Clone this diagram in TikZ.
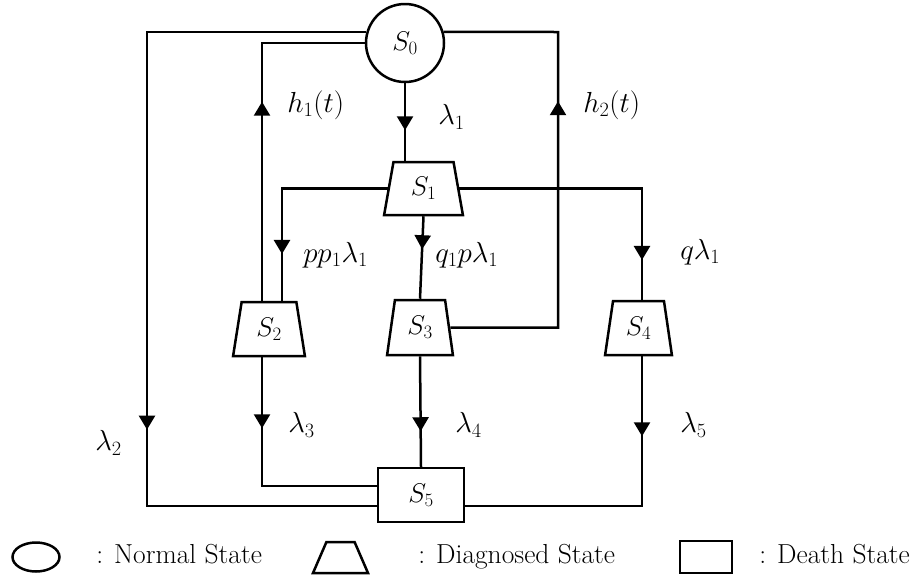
\RequirePackage{fix-cm}
\documentclass[tikz,border=0pt]{standalone}
\usepackage{tikz}
\usetikzlibrary{arrows.meta, shapes.geometric, decorations.markings}

\begin{document}
\begin{tikzpicture}[x=1pt,y=-1pt,line width=2.5pt,
    normal/.style={draw,circle,minimum size=78pt,inner sep=0pt},
    diag/.style={draw,trapezium,trapezium stretches=true,trapezium angle=80,inner sep=0pt},
    death/.style={draw,rectangle,inner sep=0pt},
    lbl/.style={anchor=west,inner sep=0pt,font=\fontsize{29}{34}\selectfont},
    legtext/.style={anchor=base west,inner sep=0pt,font=\fontsize{27.5}{33}\selectfont},
    flow/.style={postaction={decorate},decoration={markings,mark=at position #1 with {\arrow{Triangle[width=16pt,length=14pt]}}}}]
    \useasboundingbox (0,0) rectangle (915,579);
    % states
    \node[normal,font=\fontsize{27}{32}\selectfont] (s0) at (405,43) {$S_0$};
    \node[diag,font=\fontsize{27}{32}\selectfont,minimum width=79pt,minimum height=53pt] (s1) at (423.5,188.5) {$S_1$};
    \node[diag,font=\fontsize{27}{32}\selectfont,minimum width=72pt,minimum height=54pt] (s2) at (269,329) {$S_2$};
    \node[diag,font=\fontsize{27}{32}\selectfont,minimum width=66pt,minimum height=55pt] (s3) at (420,327.5) {$S_3$};
    \node[diag,font=\fontsize{27}{32}\selectfont,minimum width=67pt,minimum height=54pt] (s4) at (638.5,328) {$S_4$};
    \node[death,font=\fontsize{27}{32}\selectfont,minimum width=86pt,minimum height=54pt] (s5) at (421,495) {$S_5$};
    \coordinate (c2) at (147,506); % outer left corner
    \coordinate (h2c) at (558,32); % right corner
    % transitions
    \draw[flow=199pt] ([xshift=-7pt]s2.north) |- (s0); % h1
    \draw[flow=47pt] (s0.south) -- (s0.south |- s1.north); % lambda1
    \draw[flow=617pt] (s0.164) -| (c2) -- ([yshift=-11pt]s5.west); % lambda2
    \draw[flow=334pt] (s3.east) -| (h2c) -- (s0.16); % h2
    \draw[flow=171pt] (s1.west) -| ([xshift=13pt]s2.north);
    \draw[flow=33pt] (s1.south) -- (s3.north);
    \draw[flow=254pt] (s1.east) -| ([xshift=3.5pt]s4.north);
    \draw[flow=71pt] ([xshift=-7pt]s2.south) |- ([yshift=9pt]s5.west); % lambda3
    \draw[flow=75pt] (s3.south) -- (s5.north); % lambda4
    \draw[flow=80pt] ([xshift=3.5pt]s4.south) |- ([yshift=-11pt]s5.east); % lambda5
    % rates
    \node[lbl] (lh1) at (286,105) {$h_1(t)$};
    \node[lbl] (ll1) at (437,117) {$\lambda_1$};
    \node[lbl] (lh2) at (582,105) {$h_2(t)$};
    \node[lbl] (lpp) at (302,255) {$pp_1\lambda_1$};
    \node[lbl] (lqp) at (434,255) {$q_1p\lambda_1$};
    \node[lbl] (lq) at (679,252) {$q\lambda_1$};
    \node[lbl] (ll2) at (94,443) {$\lambda_2$};
    \node[lbl] (ll3) at (287,425) {$\lambda_3$};
    \node[lbl] (ll4) at (454,425) {$\lambda_4$};
    \node[lbl] (ll5) at (679,425) {$\lambda_5$};
    % legend
    \node[draw,ellipse,minimum width=47pt,minimum height=29pt,inner sep=0pt] (kn) at (36,557) {};
    \node[legtext] (tn) at (95,563) {: Normal State};
    \node[diag,minimum width=55pt,minimum height=31pt,trapezium angle=70] (kd) at (340.5,557.5) {\phantom{S}};
    \node[legtext] (td) at (417,563) {: Diagnosed State};
    \node[death,minimum width=52pt,minimum height=32pt] (kx) at (706,557) {};
    \node[legtext] (tx) at (758,563) {: Death State};
\end{tikzpicture}
\end{document}
